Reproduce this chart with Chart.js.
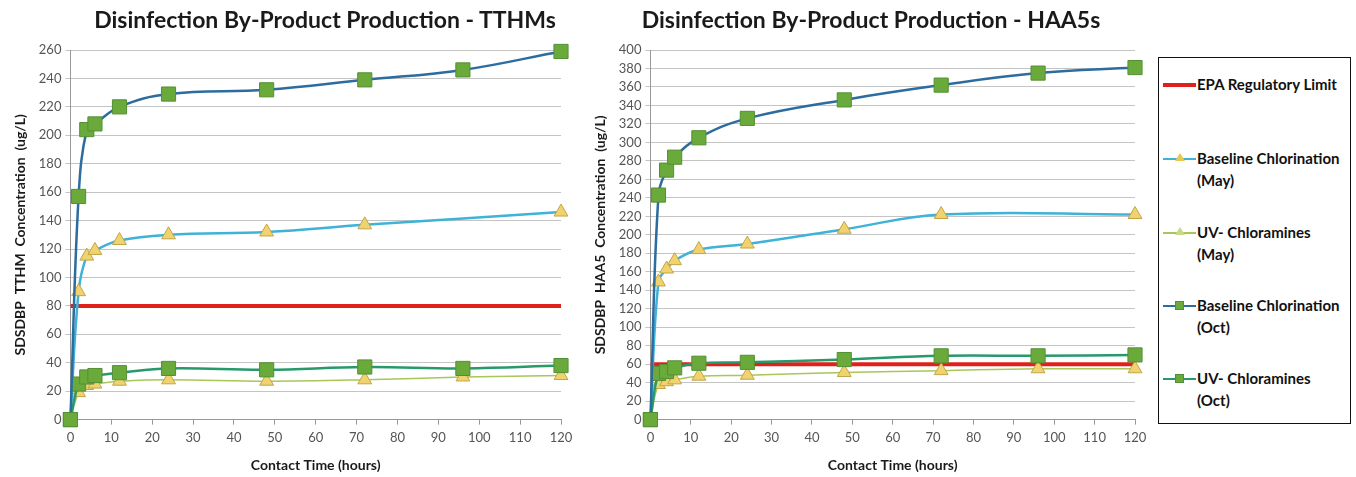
<!DOCTYPE html>
<html>
<head>
<meta charset="utf-8">
<script src="https://cdn.jsdelivr.net/npm/chart.js@4.4.1/dist/chart.umd.min.js"></script>
<style>
    body { margin: 0; background: #fff; width: 1356px; height: 477px; position: relative; overflow: hidden; font-family: Lato, "Open Sans", sans-serif; }
    .chartBox { position: absolute; top: 0; height: 477px; }
    .title { position: absolute; top: 5px; font-weight: bold; font-size: 23px; color: #1a1a1a; white-space: nowrap; transform: translateX(-50%); }
    #legend { position: absolute; left: 1158px; top: 57px; width: 193px; height: 367px; border: 1px solid #111; box-sizing: border-box; }
    .item { position: absolute; left: 4px; font-weight: bold; font-size: 15px; color: #111; line-height: 22px; white-space: nowrap; }
    .sample { position: absolute; left: 0; top: 11px; width: 33px; height: 2px; }
    .label { margin-left: 34px; }
    .sq { position: absolute; left: 12px; top: -4px; width: 9px; height: 9px; background: #6aaa3a; border: 1px solid #548f35; box-sizing: border-box; }
    .tri { position: absolute; left: 12px; top: -5px; width: 0; height: 0; border-left: 5px solid transparent; border-right: 5px solid transparent; border-bottom: 8px solid #e9c84d; }
</style>
</head>
<body>
<div class="chartBox" style="left:0;width:590px"><canvas id="tthm"></canvas></div>
<div class="chartBox" style="left:580px;width:577px"><canvas id="haa"></canvas></div>
<div class="title" style="left:325px">Disinfection By-Product Production - TTHMs</div>
<div class="title" style="left:871px">Disinfection By-Product Production - HAA5s</div>
<div id="legend">
    <div class="item" style="top:15px"><div class="sample" style="background:#e0201b;height:4px;top:10px"></div><div class="label">EPA Regulatory Limit</div></div>
    <div class="item" style="top:89px"><div class="sample" style="background:#3fb2d8"><div class="tri"></div></div><div class="label">Baseline Chlorination<br>(May)</div></div>
    <div class="item" style="top:163px"><div class="sample" style="background:#a8c65a"><div class="tri" style="border-bottom-color:#c9d98a"></div></div><div class="label">UV- Chloramines<br>(May)</div></div>
    <div class="item" style="top:236px"><div class="sample" style="background:#2c6c9e"><div class="sq"></div></div><div class="label">Baseline Chlorination<br>(Oct)</div></div>
    <div class="item" style="top:309px"><div class="sample" style="background:#279a6b"><div class="sq"></div></div><div class="label">UV- Chloramines<br>(Oct)</div></div>
</div>
<script>
const hours = [0, 2, 4, 6, 12, 24, 48, 72, 96, 120];
const limitHours = [0, 120];

// TTHMs (ug/L)
const tthmBaselineMay = [0, 90, 115, 119, 126, 130, 132, 137, null, 146];
const tthmUvMay = [0, 19, 24, 25, 27, 28, 27, 28, 30, 31];
const tthmBaselineOct = [0, 157, 204, 208, 220, 229, 232, 239, 246, 259];
const tthmUvOct = [0, 25, 30, 31, 33, 36, 35, 37, 36, 38];
const tthmLimit = [80, 80];

// HAA5s (ug/L)
const haaBaselineMay = [0, 149, 163, 172, 184, 190, 206, 222, null, 222];
const haaUvMay = [0, 38, 41, 43, 47, 48, 51, 53, 55, 55];
const haaBaselineOct = [0, 243, 270, 284, 305, 326, 346, 362, 375, 381];
const haaUvOct = [0, 50, 52, 56, 61, 62, 65, 69, 69, 70];
const haaLimit = [60, 60];

const tickFont = { family: "Lato", size: 13 };
const titleFont = { family: "Lato", size: 14, weight: "bold" };

function points(xs, ys) {
    return xs.map((x, i) => ({ x: x, y: ys[i] }));
}

function triangleSeries(label, ys, lineColor, width) {
    return {
        label: label,
        data: points(hours, ys),
        borderColor: lineColor,
        borderWidth: width,
        pointStyle: "triangle",
        pointRadius: 8,
        pointBackgroundColor: "#f0d36e",
        pointBorderColor: "#c2a548",
        pointBorderWidth: 1,
        tension: 0.4,
        spanGaps: true,
        clip: false,
        order: 2,
    };
}

function squareSeries(label, ys, lineColor) {
    return {
        label: label,
        data: points(hours, ys),
        borderColor: lineColor,
        borderWidth: 2.5,
        pointStyle: "rect",
        pointRadius: 10,
        pointBackgroundColor: "#6aaa3a",
        pointBorderColor: "#548f35",
        pointBorderWidth: 1,
        tension: 0.4,
        clip: false,
        order: 1,
    };
}

function limitSeries(ys) {
    return {
        label: "EPA Regulatory Limit",
        data: points(limitHours, ys),
        borderColor: "#e0201b",
        borderWidth: 4,
        pointRadius: 0,
        order: 5,
    };
}

function createChart(id, yTitle, yMax, rightPad, sets) {
    const ctx = document.getElementById(id).getContext("2d");
    new Chart(ctx, {
        type: "line",
        data: {
            datasets: [
                squareSeries("Baseline Chlorination (Oct)", sets[2], "#2c6c9e"),
                squareSeries("UV- Chloramines (Oct)", sets[3], "#279a6b"),
                triangleSeries("Baseline Chlorination (May)", sets[0], "#3fb2d8", 2.5),
                triangleSeries("UV- Chloramines (May)", sets[1], "#a8c65a", 1.5),
                limitSeries(sets[4]),
            ],
        },
        options: {
            responsive: true,
            maintainAspectRatio: false,
            animation: false,
            layout: { padding: { left: 8, right: rightPad, top: 50, bottom: 3 } },
            plugins: {
                legend: { display: false },
                tooltip: { enabled: false },
            },
            scales: {
                x: {
                    type: "linear",
                    min: 0,
                    max: 120,
                    ticks: { stepSize: 10, color: "#555", font: tickFont, padding: 5, autoSkip: false },
                    grid: { drawOnChartArea: false, drawTicks: true, tickLength: 5, color: "#999" },
                    border: { color: "#999" },
                    title: { display: true, text: "Contact Time (hours)", color: "#1a1a1a", font: titleFont, padding: { top: 7, bottom: 0 } },
                },
                y: {
                    min: 0,
                    max: yMax,
                    ticks: { stepSize: 20, color: "#555", font: tickFont, padding: 4, autoSkip: false },
                    grid: { color: "#c4c4c4", tickLength: 5 },
                    border: { color: "#999" },
                    title: { display: true, text: yTitle, color: "#1a1a1a", font: titleFont, padding: { bottom: 6 } },
                },
            },
        },
    });
}

createChart("tthm", "SDSDBP  TTHM  Concentration  (ug/L)", 260, 29,
    [tthmBaselineMay, tthmUvMay, tthmBaselineOct, tthmUvOct, tthmLimit]);
createChart("haa", "SDSDBP  HAA5  Concentration  (ug/L)", 400, 22,
    [haaBaselineMay, haaUvMay, haaBaselineOct, haaUvOct, haaLimit]);
</script>
</body>
</html>
